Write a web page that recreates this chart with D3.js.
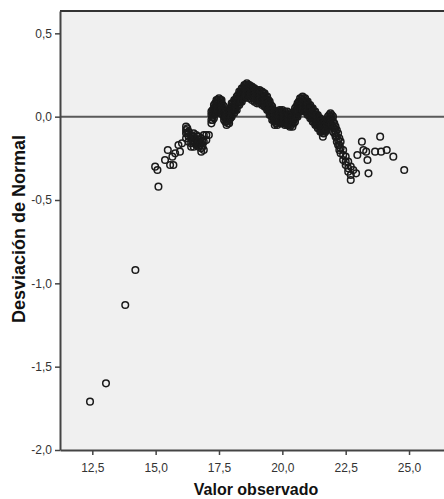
<!DOCTYPE html>
<html>
<head>
<meta charset="utf-8">
<script src="https://cdn.jsdelivr.net/npm/d3@7"></script>
<style>
  body { margin: 0; background: #fff; }
  svg { display: block; font-family: "Liberation Sans", Arial, sans-serif; }
</style>
</head>
<body>
<div id="vis"></div>
<script>
// Tick values
var xTicks = [12.5, 15.0, 17.5, 20.0, 22.5, 25.0];
var yTicks = [0.5, 0.0, -0.5, -1.0, -1.5, -2.0];

// Left tail: single points [valor observado, desviación]
var colaIzquierda = [
  [12.41, -1.71], [13.04, -1.60], [13.80, -1.13], [14.20, -0.92],
  [14.98, -0.30], [15.07, -0.32], [15.11, -0.42], [15.37, -0.26],
  [15.48, -0.20], [15.57, -0.29], [15.66, -0.24], [15.70, -0.29],
  [15.77, -0.22], [15.90, -0.17], [15.96, -0.21], [16.04, -0.16]
];

// Tied values around 16-17: [valor observado, [desviaciones]]
var grupoMedio = [
  [16.20, [-0.06, -0.08, -0.10, -0.13]],
  [16.25, [-0.07, -0.10]],
  [16.30, [-0.09, -0.12, -0.15]],
  [16.40, [-0.11, -0.13, -0.16, -0.18]],
  [16.45, [-0.12, -0.15]],
  [16.50, [-0.10, -0.12, -0.15, -0.18]],
  [16.55, [-0.13, -0.16]],
  [16.60, [-0.11, -0.14, -0.17]],
  [16.65, [-0.12, -0.16]],
  [16.70, [-0.12, -0.15, -0.18]],
  [16.75, [-0.14, -0.17]],
  [16.80, [-0.13, -0.16, -0.19, -0.21]],
  [16.85, [-0.15, -0.18]],
  [16.90, [-0.11, -0.15, -0.20]],
  [17.00, [-0.11, -0.14]],
  [17.10, [-0.11]]
];

// Dense band 17.2 - 22.7: [valor observado, [desviaciones]]
var tramoCentral = [
  [17.20, [0.03, 0.01, -0.02, -0.04]],
  [17.25, [0.04, 0.02, 0.00, -0.02]],
  [17.30, [0.07, 0.05, 0.03, 0.01, -0.01]],
  [17.35, [0.08, 0.06, 0.04, 0.02]],
  [17.40, [0.10, 0.08, 0.06, 0.04, 0.02]],
  [17.45, [0.10, 0.08, 0.06, 0.04]],
  [17.50, [0.11, 0.09, 0.07, 0.05, 0.03]],
  [17.55, [0.10, 0.08, 0.06, 0.04]],
  [17.60, [0.10, 0.08, 0.06, 0.04, 0.02]],
  [17.65, [0.07, 0.05, 0.03, 0.01]],
  [17.70, [0.06, 0.04, 0.02, 0.00, -0.02]],
  [17.75, [0.03, 0.01, -0.01, -0.03]],
  [17.80, [0.03, 0.01, -0.01, -0.03, -0.05]],
  [17.85, [0.02, 0.00, -0.02, -0.04]],
  [17.90, [0.04, 0.02, 0.00, -0.02, -0.04]],
  [17.95, [0.05, 0.03, 0.01, -0.01]],
  [18.00, [0.08, 0.06, 0.04, 0.02, 0.00]],
  [18.05, [0.08, 0.06, 0.04, 0.02]],
  [18.10, [0.10, 0.08, 0.06, 0.04, 0.02]],
  [18.15, [0.10, 0.08, 0.06, 0.04]],
  [18.20, [0.12, 0.10, 0.08, 0.06, 0.04]],
  [18.25, [0.13, 0.11, 0.09, 0.07]],
  [18.30, [0.15, 0.13, 0.11, 0.09, 0.07]],
  [18.35, [0.15, 0.13, 0.11, 0.09]],
  [18.40, [0.17, 0.15, 0.13, 0.11, 0.09]],
  [18.45, [0.17, 0.15, 0.13, 0.11]],
  [18.50, [0.19, 0.17, 0.15, 0.13, 0.11]],
  [18.55, [0.19, 0.17, 0.15, 0.13]],
  [18.60, [0.20, 0.18, 0.16, 0.14, 0.12]],
  [18.65, [0.19, 0.17, 0.15, 0.13]],
  [18.70, [0.19, 0.17, 0.15, 0.13, 0.11]],
  [18.75, [0.18, 0.16, 0.14, 0.12]],
  [18.80, [0.18, 0.16, 0.14, 0.12, 0.10]],
  [18.85, [0.17, 0.15, 0.13, 0.11]],
  [18.90, [0.17, 0.15, 0.13, 0.11, 0.09]],
  [18.95, [0.16, 0.14, 0.12, 0.10]],
  [19.00, [0.16, 0.14, 0.12, 0.10, 0.08]],
  [19.05, [0.15, 0.13, 0.11, 0.09]],
  [19.10, [0.16, 0.14, 0.12, 0.10, 0.08]],
  [19.15, [0.15, 0.13, 0.11, 0.09]],
  [19.20, [0.15, 0.13, 0.11, 0.09, 0.07]],
  [19.25, [0.14, 0.12, 0.10, 0.08]],
  [19.30, [0.14, 0.12, 0.10, 0.08, 0.06]],
  [19.35, [0.12, 0.10, 0.08, 0.06]],
  [19.40, [0.12, 0.10, 0.08, 0.06, 0.04]],
  [19.45, [0.10, 0.08, 0.06, 0.04]],
  [19.50, [0.09, 0.07, 0.05, 0.03, 0.01]],
  [19.55, [0.07, 0.05, 0.03, 0.01]],
  [19.60, [0.06, 0.04, 0.02, 0.00, -0.02]],
  [19.65, [0.04, 0.02, 0.00, -0.02]],
  [19.70, [0.03, 0.01, -0.01, -0.03, -0.05]],
  [19.75, [0.02, 0.00, -0.02, -0.04]],
  [19.80, [0.03, 0.01, -0.01, -0.03, -0.05]],
  [19.85, [0.03, 0.01, -0.01, -0.03]],
  [19.90, [0.04, 0.02, 0.00, -0.02, -0.04]],
  [19.95, [0.03, 0.01, -0.01, -0.03]],
  [20.00, [0.04, 0.02, 0.00, -0.02, -0.04]],
  [20.05, [0.02, 0.00, -0.02, -0.04]],
  [20.10, [0.03, 0.01, -0.01, -0.03, -0.05]],
  [20.15, [0.02, 0.00, -0.02, -0.04]],
  [20.20, [0.03, 0.01, -0.01, -0.03, -0.05]],
  [20.25, [0.01, -0.01, -0.03, -0.05]],
  [20.30, [0.02, 0.00, -0.02, -0.04, -0.06]],
  [20.35, [0.01, -0.01, -0.03, -0.05]],
  [20.40, [0.02, 0.00, -0.02, -0.04, -0.06]],
  [20.45, [0.02, 0.00, -0.02, -0.04]],
  [20.50, [0.05, 0.03, 0.01, -0.01, -0.03]],
  [20.55, [0.06, 0.04, 0.02, 0.00]],
  [20.60, [0.08, 0.06, 0.04, 0.02, 0.00]],
  [20.65, [0.09, 0.07, 0.05, 0.03]],
  [20.70, [0.11, 0.09, 0.07, 0.05, 0.03]],
  [20.75, [0.11, 0.09, 0.07, 0.05]],
  [20.80, [0.12, 0.10, 0.08, 0.06, 0.04]],
  [20.85, [0.11, 0.09, 0.07, 0.05]],
  [20.90, [0.11, 0.09, 0.07, 0.05, 0.03]],
  [20.95, [0.09, 0.07, 0.05, 0.03]],
  [21.00, [0.09, 0.07, 0.05, 0.03, 0.01]],
  [21.05, [0.07, 0.05, 0.03, 0.01]],
  [21.10, [0.07, 0.05, 0.03, 0.01, -0.01]],
  [21.15, [0.05, 0.03, 0.01, -0.01]],
  [21.20, [0.05, 0.03, 0.01, -0.01, -0.03]],
  [21.25, [0.03, 0.01, -0.01, -0.03]],
  [21.30, [0.03, 0.01, -0.01, -0.03, -0.05]],
  [21.35, [0.01, -0.01, -0.03, -0.05]],
  [21.40, [0.01, -0.01, -0.03, -0.05, -0.07]],
  [21.45, [-0.01, -0.03, -0.05, -0.07]],
  [21.50, [-0.01, -0.03, -0.05, -0.07, -0.09]],
  [21.55, [-0.03, -0.05, -0.07, -0.09]],
  [21.60, [-0.04, -0.06, -0.08, -0.10, -0.12]],
  [21.65, [-0.04, -0.06, -0.08, -0.10]],
  [21.70, [-0.03, -0.05, -0.07, -0.09]],
  [21.75, [-0.02, -0.04, -0.06, -0.08]],
  [21.80, [0.00, -0.02, -0.04, -0.06]],
  [21.85, [0.01, -0.01, -0.03, -0.05]],
  [21.90, [0.02, 0.00, -0.02, -0.04]],
  [21.95, [0.01, -0.01, -0.03, -0.05]],
  [22.00, [0.00, -0.03, -0.06, -0.09]],
  [22.05, [-0.04, -0.07, -0.10]],
  [22.10, [-0.06, -0.09, -0.12]],
  [22.15, [-0.08, -0.12, -0.15]],
  [22.20, [-0.10, -0.14, -0.17]],
  [22.25, [-0.13, -0.17, -0.20]],
  [22.30, [-0.15, -0.19, -0.22]],
  [22.40, [-0.20, -0.23, -0.26]],
  [22.50, [-0.24, -0.27, -0.29]],
  [22.60, [-0.27, -0.31, -0.33]],
  [22.70, [-0.30, -0.35, -0.38]]
];

// Right tail: single points [valor observado, desviación]
var colaDerecha = [
  [22.80, -0.32], [22.91, -0.34], [22.96, -0.23], [23.14, -0.15],
  [23.20, -0.20], [23.31, -0.21], [23.36, -0.26], [23.40, -0.34],
  [23.66, -0.21], [23.86, -0.12], [23.90, -0.21], [24.12, -0.20],
  [24.38, -0.24], [24.81, -0.32]
];

var width = 444;
var height = 499;

// plot frame (right edge runs past the window)
var plotLeft = 60, plotTop = 11, plotRight = 444, plotBottom = 450;

var x = d3.scaleLinear().domain([11.225, 26.38]).range([plotLeft, plotRight]);
var y = d3.scaleLinear().domain([-2.0, 0.634]).range([plotBottom, plotTop]);

// Spanish number format: comma decimal, hyphen minus
var fmt = d3.formatLocale({ decimal: ",", thousands: ".", grouping: [3], currency: ["", ""], minus: "-" }).format(".1f");

// gather all observations
var puntos = [];
colaIzquierda.forEach(function (p) { puntos.push(p); });
grupoMedio.concat(tramoCentral).forEach(function (s) {
  s[1].forEach(function (d) { puntos.push([s[0], d]); });
});
colaDerecha.forEach(function (p) { puntos.push(p); });

var svg = d3.select('#vis').append('svg')
  .attr('width', width)
  .attr('height', height);

// plot background
svg.append('rect')
  .attr('x', plotLeft).attr('y', plotTop)
  .attr('width', plotRight - plotLeft).attr('height', plotBottom - plotTop)
  .attr('fill', '#f0f0f0');

// zero reference line
svg.append('line')
  .attr('x1', plotLeft).attr('x2', plotRight)
  .attr('y1', y(0)).attr('y2', y(0))
  .attr('stroke', '#5a5a5a')
  .attr('stroke-width', 2);

// points
svg.append('g').selectAll('circle')
  .data(puntos)
  .enter().append('circle')
  .attr('cx', function (d) { return x(d[0]); })
  .attr('cy', function (d) { return y(d[1]); })
  .attr('r', 3.3)
  .attr('fill', 'none')
  .attr('stroke', '#1a1a1a')
  .attr('stroke-width', 1.5);

// top border
svg.append('line')
  .attr('x1', plotLeft).attr('x2', plotRight)
  .attr('y1', plotTop).attr('y2', plotTop)
  .attr('stroke', '#333')
  .attr('stroke-width', 2);

// axes
var yAxis = d3.axisLeft(y).tickValues(yTicks).tickFormat(fmt)
  .tickSizeInner(5).tickSizeOuter(0).tickPadding(3);
var xAxis = d3.axisBottom(x).tickValues(xTicks).tickFormat(fmt)
  .tickSizeInner(5).tickSizeOuter(0).tickPadding(8);

var gy = svg.append('g').attr('transform', 'translate(' + plotLeft + ',0)').call(yAxis);
var gx = svg.append('g').attr('transform', 'translate(0,' + plotBottom + ')').call(xAxis);

[gx, gy].forEach(function (g) {
  g.select('.domain').attr('stroke', '#444').attr('stroke-width', 2);
  g.selectAll('.tick line').attr('stroke', '#444').attr('stroke-width', 1.5);
  g.selectAll('.tick text')
    .attr('fill', '#333')
    .style('font-size', '12px')
    .style('font-family', '"Liberation Sans", Arial, sans-serif');
});

// axis titles
svg.append('text')
  .attr('x', 256)
  .attr('y', 495)
  .attr('text-anchor', 'middle')
  .style('font-size', '16px')
  .style('font-weight', 'bold')
  .attr('fill', '#111')
  .text('Valor observado');

svg.append('text')
  .attr('transform', 'translate(25,229) rotate(-90)')
  .attr('text-anchor', 'middle')
  .style('font-size', '18px')
  .style('font-weight', 'bold')
  .attr('fill', '#111')
  .text('Desviación de Normal');
</script>
</body>
</html>
